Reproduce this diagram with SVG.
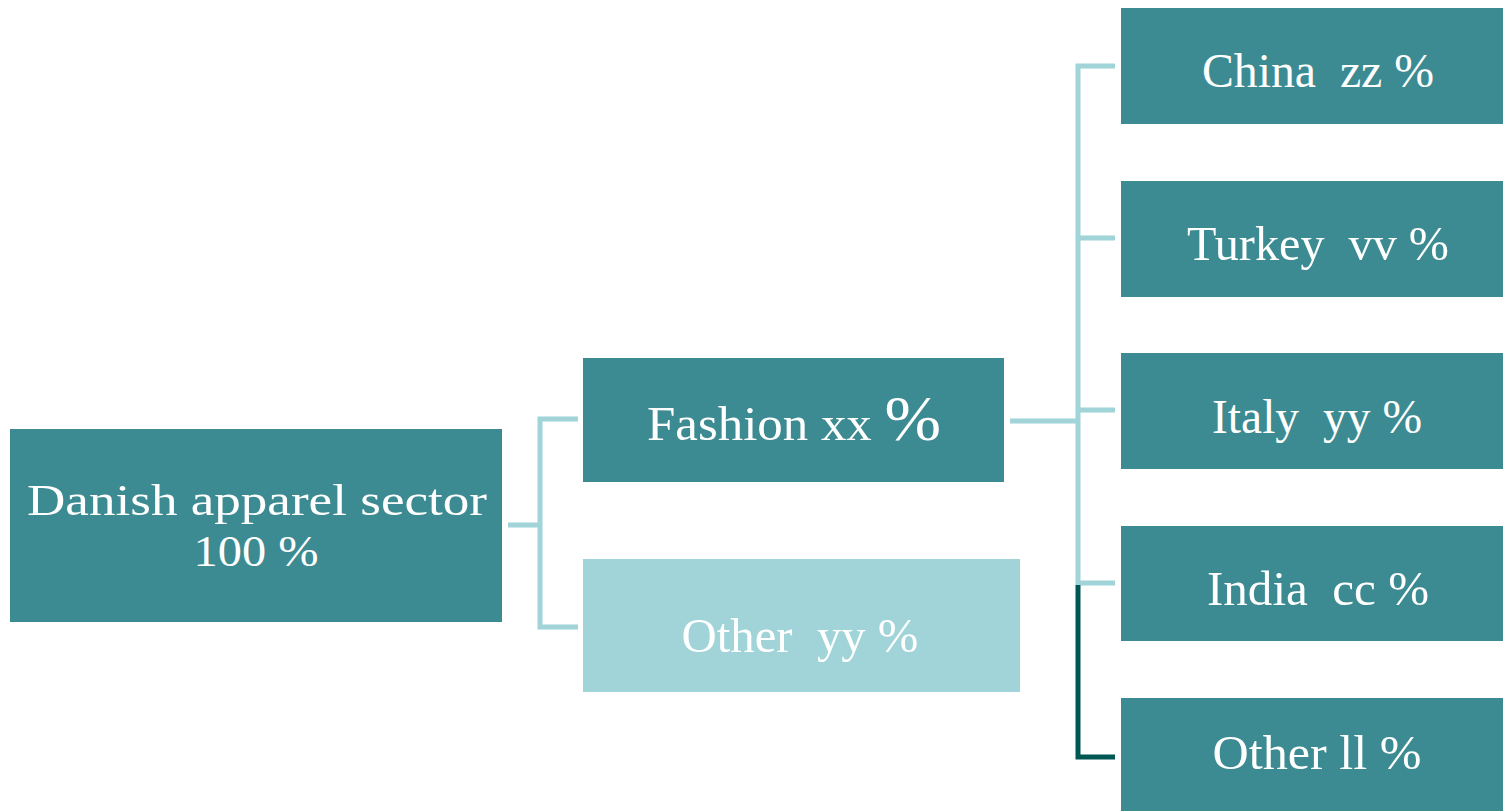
<svg xmlns="http://www.w3.org/2000/svg" width="1503" height="811" viewBox="0 0 1503 811">
<style>
.box{fill:#3D8B92;}
.lbox{fill:#A0D4D8;}
.t{font-family:"Liberation Serif","DejaVu Serif",serif;font-size:48px;fill:#FFFFFF;text-anchor:middle;}
.r{font-size:45px;}
.c{fill:none;stroke:#A0D4D8;stroke-width:5;}
.cd{fill:none;stroke:#005652;stroke-width:5;}
</style>
<rect width="1503" height="811" fill="#FFFFFF"/>
<g id="connectors">
<path class="c" d="M508 525 H540 M578 419 H540 V627 H578"/>
<path class="c" d="M1010 421 H1078 M1115 66 H1078 V583 H1115 M1078 238 H1115 M1078 410 H1115"/>
<path class="cd" d="M1078 585 V757 H1115"/>
</g>
<g id="root">
<rect class="box" x="10" y="429" width="492" height="193"/>
<text class="t r" x="257" y="515" textLength="460" lengthAdjust="spacingAndGlyphs">Danish apparel sector</text>
<text class="t r" x="256" y="566" textLength="125" lengthAdjust="spacingAndGlyphs">100 %</text>
</g>
<g id="fashion">
<rect class="box" x="583" y="358" width="421" height="124"/>
<text class="t" x="794" y="440" textLength="294" lengthAdjust="spacingAndGlyphs">Fashion xx <tspan font-size="64">%</tspan></text>
</g>
<g id="other1">
<rect class="lbox" x="583" y="559" width="437" height="133"/>
<text class="t" xml:space="preserve" x="800" y="652" textLength="237" lengthAdjust="spacingAndGlyphs">Other  yy %</text>
</g>
<g id="china">
<rect class="box" x="1121" y="8" width="382" height="116"/>
<text class="t" xml:space="preserve" x="1318" y="87" textLength="232" lengthAdjust="spacingAndGlyphs">China  zz %</text>
</g>
<g id="turkey">
<rect class="box" x="1121" y="181" width="382" height="116"/>
<text class="t" xml:space="preserve" x="1318" y="260" textLength="262" lengthAdjust="spacingAndGlyphs">Turkey  vv %</text>
</g>
<g id="italy">
<rect class="box" x="1121" y="353" width="382" height="116"/>
<text class="t" xml:space="preserve" x="1317" y="433" textLength="210" lengthAdjust="spacingAndGlyphs">Italy  yy %</text>
</g>
<g id="india">
<rect class="box" x="1121" y="526" width="382" height="115"/>
<text class="t" xml:space="preserve" x="1318" y="605" textLength="222" lengthAdjust="spacingAndGlyphs">India  cc %</text>
</g>
<g id="other2">
<rect class="box" x="1121" y="698" width="382" height="113"/>
<text class="t" x="1317" y="769" textLength="209" lengthAdjust="spacingAndGlyphs">Other ll %</text>
</g>
</svg>
